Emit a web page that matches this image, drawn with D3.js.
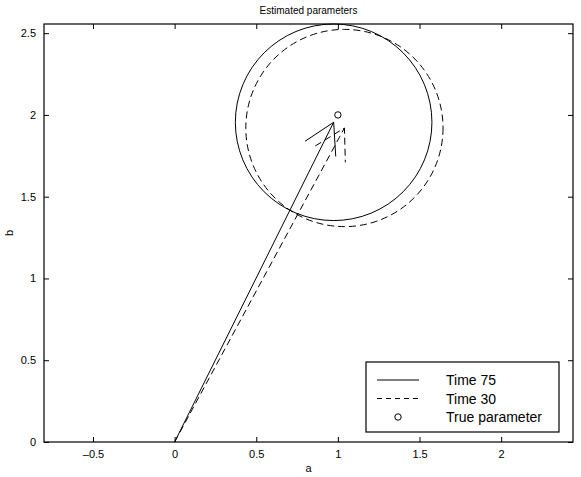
<!DOCTYPE html>
<html>
<head>
<meta charset="utf-8">
<script src="https://cdn.jsdelivr.net/npm/d3@7"></script>
<style>
  body { margin: 0; background: #fff; }
  text { font-family: "Liberation Sans", Arial, sans-serif; fill: #000; }
</style>
</head>
<body>
<div id="chart"></div>
<script>
// Data
const xTicks = [-0.5, 0, 0.5, 1, 1.5, 2];
const yTicks = [0, 0.5, 1, 1.5, 2, 2.5];
const xDomain = [-0.8, 2.44];
const yDomain = [0, 2.556];

// estimates: arrow from origin to centre, circle radius around it
const seriesNames = ["Time 75", "Time 30"];
const centreA = [0.974, 1.04];
const centreB = [1.955, 1.92];
const radius = [0.602, 0.604];
const dashes = [null, "7,4"];

const trueParam = [1, 2];

// Size of the chart
const W = 581, H = 477;
const margin = { top: 24, right: 8, bottom: 35, left: 44 };
const width = W - margin.left - margin.right,
  height = H - margin.top - margin.bottom;

const svg = d3.select("#chart").append("svg")
  .attr("width", W).attr("height", H);

const x = d3.scaleLinear().domain(xDomain).range([margin.left, margin.left + width]);
const y = d3.scaleLinear().domain(yDomain).range([margin.top + height, margin.top]);
const px = x(1) - x(0); // pixels per unit (axis equal)

// Frame
svg.append("rect")
  .attr("x", margin.left).attr("y", margin.top)
  .attr("width", width).attr("height", height)
  .attr("fill", "none").attr("stroke", "#000").attr("stroke-width", 1.2);

// Axes with inward ticks
const tl = 5;
const fmt = d => String(d).replace("-", "\u2013");
svg.append("g").attr("transform", `translate(0,${margin.top + height})`)
  .call(d3.axisBottom(x).tickValues(xTicks).tickSize(-tl).tickPadding(8).tickFormat(fmt))
  .call(g => g.select(".domain").remove());
svg.append("g").attr("transform", `translate(0,${margin.top})`)
  .call(d3.axisTop(x).tickValues(xTicks).tickSize(-tl).tickFormat(""))
  .call(g => g.select(".domain").remove());
svg.append("g").attr("transform", `translate(${margin.left},0)`)
  .call(d3.axisLeft(y).tickValues(yTicks).tickSize(-tl).tickPadding(8).tickFormat(fmt))
  .call(g => g.select(".domain").remove());
svg.append("g").attr("transform", `translate(${margin.left + width},0)`)
  .call(d3.axisRight(y).tickValues(yTicks).tickSize(-tl).tickFormat(""))
  .call(g => g.select(".domain").remove());

svg.selectAll(".tick text")
  .attr("font-family", "Liberation Sans, Arial, sans-serif")
  .attr("font-size", 11);
svg.selectAll(".tick line").attr("stroke", "#000");

// Labels
svg.append("text").attr("x", margin.left + width / 2).attr("y", 14)
  .attr("text-anchor", "middle").attr("font-size", 10).text("Estimated parameters");
svg.append("text").attr("x", margin.left + width / 2).attr("y", 472)
  .attr("text-anchor", "middle").attr("font-size", 11).text("a");
svg.append("text").attr("transform", `translate(13,${margin.top + height / 2}) rotate(-90)`)
  .attr("text-anchor", "middle").attr("font-size", 11).text("b");

const plot = svg.append("g");

// Circles and arrows
const headLen = 0.21, headAng = Math.PI / 6;
seriesNames.forEach((name, i) => {
  const ca = centreA[i], cb = centreB[i];
  plot.append("circle")
    .attr("cx", x(ca)).attr("cy", y(cb)).attr("r", radius[i] * px)
    .attr("fill", "none").attr("stroke", "#000").attr("stroke-width", 1)
    .attr("stroke-dasharray", dashes[i]);

  const ang = Math.atan2(cb, ca) + Math.PI;
  const head = [
    [ca + headLen * Math.cos(ang - headAng), cb + headLen * Math.sin(ang - headAng)],
    [ca, cb],
    [ca + headLen * Math.cos(ang + headAng), cb + headLen * Math.sin(ang + headAng)]
  ];
  const line = d3.line().x(d => x(d[0])).y(d => y(d[1]));
  plot.append("path").attr("d", line([[0, 0], [ca, cb]]))
    .attr("fill", "none").attr("stroke", "#000").attr("stroke-width", 1)
    .attr("stroke-dasharray", dashes[i]);
  plot.append("path").attr("d", line(head))
    .attr("fill", "none").attr("stroke", "#000").attr("stroke-width", 1)
    .attr("stroke-dasharray", dashes[i]);
});

// True parameter
plot.append("circle")
  .attr("cx", x(trueParam[0])).attr("cy", y(trueParam[1])).attr("r", 3.2)
  .attr("fill", "none").attr("stroke", "#000").attr("stroke-width", 1);

// Legend
const legend = svg.append("g").attr("transform", "translate(366,362)");
legend.append("rect").attr("width", 193).attr("height", 70)
  .attr("fill", "#fff").attr("stroke", "#000").attr("stroke-width", 1.2);
const legendItems = [
  { label: seriesNames[0], type: "line", dash: dashes[0] },
  { label: seriesNames[1], type: "line", dash: dashes[1] },
  { label: "True parameter", type: "marker" }
];
legendItems.forEach((d, i) => {
  const cy = 18 + i * 18.5;
  if (d.type === "line") {
    legend.append("line").attr("x1", 11).attr("x2", 53).attr("y1", cy).attr("y2", cy)
      .attr("stroke", "#000").attr("stroke-width", 1).attr("stroke-dasharray", d.dash ? "5,4" : null);
  } else {
    legend.append("circle").attr("cx", 32).attr("cy", cy).attr("r", 3.2)
      .attr("fill", "none").attr("stroke", "#000");
  }
  legend.append("text").attr("x", 80).attr("y", cy + 5).attr("font-size", 14).text(d.label);
});
</script>
</body>
</html>
